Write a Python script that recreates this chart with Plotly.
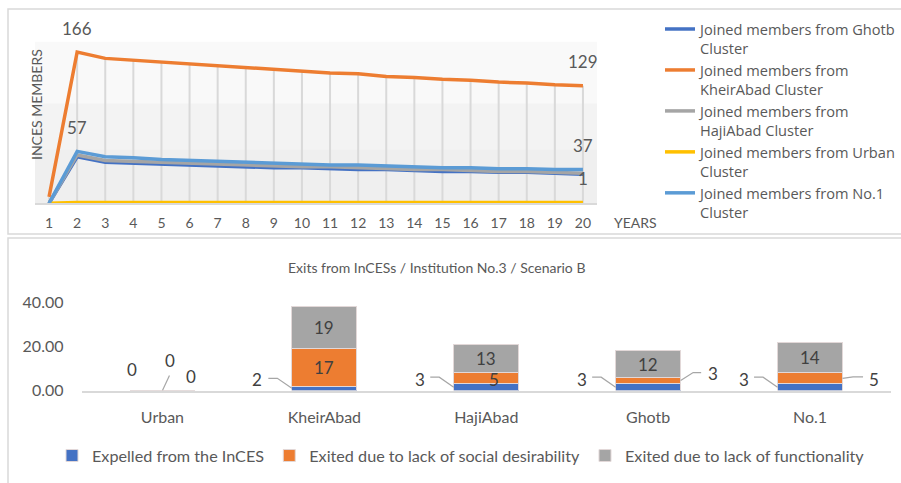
import plotly.graph_objects as go

# ---------------- data: joined members per cluster over 20 years ----------------
years = list(range(1, 21))
ghotb_members = [0, 51, 45, 44, 43, 42, 41, 40, 39, 39, 38, 37, 37, 36, 35, 35, 34, 34, 33, 32]
kheirabad_members = [7, 166, 159, 157, 155, 153, 151, 149, 147, 145, 143, 142, 139, 138, 136, 135, 133, 132, 130, 129]
hajiabad_members = [0, 53, 47, 46, 45, 44, 43, 42, 41, 40, 40, 39, 38, 37, 37, 36, 35, 35, 34, 33]
urban_members = [0, 1, 1, 1, 1, 1, 1, 1, 1, 1, 1, 1, 1, 1, 1, 1, 1, 1, 1, 1]
no1_members = [0, 57, 51, 50, 48, 47, 46, 45, 44, 43, 42, 42, 41, 40, 39, 39, 38, 38, 37, 37]

line_names = [
    "Joined members from Ghotb<br>Cluster",
    "Joined members from<br>KheirAbad Cluster",
    "Joined members from<br>HajiAbad Cluster",
    "Joined members from Urban<br>Cluster",
    "Joined members from No.1<br>Cluster",
]

# ---------------- data: exits per cluster ----------------
clusters = ["Urban", "KheirAbad", "HajiAbad", "Ghotb", "No.1"]
expelled = [0, 2, 3, 3, 3]
exit_social = [0, 17, 5, 3, 5]
exit_function = [0, 19, 13, 12, 14]
exit_names = [
    "Expelled from the InCES",
    "Exited due to lack of social desirability",
    "Exited due to lack of functionality",
]

# ---------------- styling ----------------
W, H = 901, 483
FONT = "Lato"
TXT = "#595959"
DARK = "#404040"
GRID = "#d9d9d9"
line_colors = ["#4472C4", "#ED7D31", "#A5A5A5", "#FFC000", "#5B9BD5"]
bar_colors = ["#4472C4", "#ED7D31", "#A5A5A5"]


def px_x(p):
    return p / W


def px_y(p):
    return 1 - p / H


fig = go.Figure()

# drop lines from the highest series down to the axis
drop_x, drop_y = [], []
for yr, v in zip(years, kheirabad_members):
    drop_x += [yr, yr, None]
    drop_y += [0, v, None]
fig.add_trace(go.Scatter(x=drop_x, y=drop_y, mode="lines", showlegend=False,
                         line=dict(color=GRID, width=2), hoverinfo="skip",
                         xaxis="x", yaxis="y"))

series = [ghotb_members, kheirabad_members, hajiabad_members, urban_members, no1_members]
for vals, name, col in zip(series, line_names, line_colors):
    fig.add_trace(go.Scatter(x=years, y=vals, mode="lines", name=name,
                             line=dict(color=col, width=3.5), legend="legend",
                             xaxis="x", yaxis="y"))

# value labels on the line chart: (series index, year)
line_labels = [(1, 2), (4, 2), (1, 20), (4, 20), (3, 20)]
annotations = []
for si, yr in line_labels:
    v = series[si][yr - 1]
    annotations.append(dict(x=yr, y=v, xref="x", yref="y", text=str(v), showarrow=False,
                            yshift=24, font=dict(family=FONT, size=17, color=TXT)))

# stacked bars
bar_series = [expelled, exit_social, exit_function]
for vals, name, col in zip(bar_series, exit_names, bar_colors):
    fig.add_trace(go.Bar(x=clusters, y=vals, name=name, marker=dict(color=col,
                         line=dict(color="#e2d8d8", width=1)),
                         legend="legend2", xaxis="x2", yaxis="y2"))

# bar labels: placement per (series, cluster) -> (dx, dy, leader path or None)
# dx, dy: pixel offset of the text from the segment midpoint (dy up)
LEFT_LEADER = "M -32.5,0 L -47,10 L -56,10"
RIGHT_LEADER = "M 32.5,0 L 45,8 L 53,8"
label_place = {
    (0, 0): (-30, 21, None),
    (1, 0): (8, 30, "M 0,0 L 7,15"),
    (2, 0): (29, 14, None),
    (0, 1): (-67, 9, LEFT_LEADER),
    (0, 2): (-66, 8, LEFT_LEADER),
    (0, 3): (-66, 8, LEFT_LEADER),
    (0, 4): (-66, 8, LEFT_LEADER),
    (1, 2): (8, -1, None),
    (1, 3): (65, 7, RIGHT_LEADER),
    (1, 4): (64, -1, "M 32.5,0 L 43,1.5 L 53,1.5"),
}
shapes = []
for si, vals in enumerate(bar_series):
    for ci, cl in enumerate(clusters):
        base = sum(bar_series[k][ci] for k in range(si))
        mid = base + vals[ci] / 2
        dx, dy, leader = label_place.get((si, ci), (0, 0, None))
        annotations.append(dict(x=cl, y=mid, xref="x2", yref="y2", text=str(vals[ci]),
                                showarrow=False, xshift=dx, yshift=dy,
                                font=dict(family=FONT, size=17, color=DARK)))
        if leader:
            shapes.append(dict(type="path", xref="x2", yref="y2", xsizemode="pixel",
                               ysizemode="pixel", xanchor=cl, yanchor=mid, path=leader,
                               line=dict(color="#a6a6a6", width=1.2), layer="above"))

# shaded bands behind the line chart
for y0, y1, col in [(0.619, 1.0, "#f9f9f9"), (0.334, 0.619, "#f3f3f3"), (0.0, 0.334, "#efefef")]:
    shapes.append(dict(type="rect", xref="x domain", yref="y domain", x0=0, x1=1, y0=y0, y1=y1,
                       fillcolor=col, line=dict(width=0), layer="below"))

# panel frames
shapes.append(dict(type="rect", xref="paper", yref="paper", x0=px_x(8), x1=px_x(910),
                   y0=px_y(234), y1=px_y(9), line=dict(color=GRID, width=1.5), layer="below"))
shapes.append(dict(type="rect", xref="paper", yref="paper", x0=px_x(8), x1=px_x(910),
                   y0=px_y(490), y1=px_y(238), line=dict(color=GRID, width=1.5), layer="below"))

# axis titles and chart title
annotations += [
    dict(x=px_x(612), y=px_y(222), xref="paper", yref="paper", text="YEARS", showarrow=False,
         xanchor="left", yanchor="middle", font=dict(family=FONT, size=14, color=TXT)),
    dict(x=px_x(37), y=px_y(105), xref="paper", yref="paper", text="INCES MEMBERS",
         showarrow=False, textangle=-90, xanchor="center", yanchor="middle",
         font=dict(family=FONT, size=14, color=TXT)),
    dict(x=px_x(436), y=px_y(267), xref="paper", yref="paper",
         text="Exits from InCESs / Institution No.3 / Scenario B", showarrow=False,
         xanchor="center", yanchor="middle", font=dict(family=FONT, size=14, color=TXT)),
]

fig.update_layout(
    width=W, height=H,
    margin=dict(l=0, r=0, t=0, b=0, autoexpand=False),
    paper_bgcolor="white", plot_bgcolor="rgba(0,0,0,0)",
    font=dict(family=FONT, color=TXT),
    barmode="stack", bargap=0.6,
    xaxis=dict(domain=[px_x(35), px_x(597)], anchor="y", range=[0.5, 20.5],
               tickmode="array", tickvals=years, ticktext=[str(y) for y in years],
               showgrid=False, zeroline=False, showline=True, linecolor=GRID, linewidth=1.5,
               ticks="", ticklabelstandoff=6, tickfont=dict(family=FONT, size=14, color=TXT)),
    yaxis=dict(domain=[px_y(203.3), px_y(41.7)], anchor="x", range=[0, 177.3],
               showgrid=False, zeroline=False, showticklabels=False, showline=False),
    xaxis2=dict(domain=[px_x(81.5), px_x(891)], anchor="y2", type="category",
                showgrid=False, zeroline=False, showline=True, linecolor=GRID, linewidth=1.5,
                ticks="", ticklabelstandoff=12, tickfont=dict(family=FONT, size=16, color=TXT)),
    yaxis2=dict(domain=[px_y(390.5), px_y(302.5)], anchor="x2", range=[0, 40],
                tickvals=[0, 20, 40], tickformat=".2f", showgrid=False, zeroline=False,
                showline=False, ticks="", ticklabelstandoff=17,
                tickfont=dict(family=FONT, size=16, color=TXT)),
    legend=dict(x=px_x(660), y=px_y(13), xanchor="left", yanchor="top", valign="top",
                font=dict(family="Open Sans", size=14.6, color=TXT), bgcolor="rgba(0,0,0,0)",
                tracegroupgap=0, itemclick=False),
    legend2=dict(orientation="h", x=px_x(461), y=px_y(456), xanchor="center", yanchor="middle",
                 traceorder="normal",
                 font=dict(family=FONT, size=16.2, color=TXT), bgcolor="rgba(0,0,0,0)"),
    annotations=annotations,
    shapes=shapes,
)

fig.write_html("out.html")
